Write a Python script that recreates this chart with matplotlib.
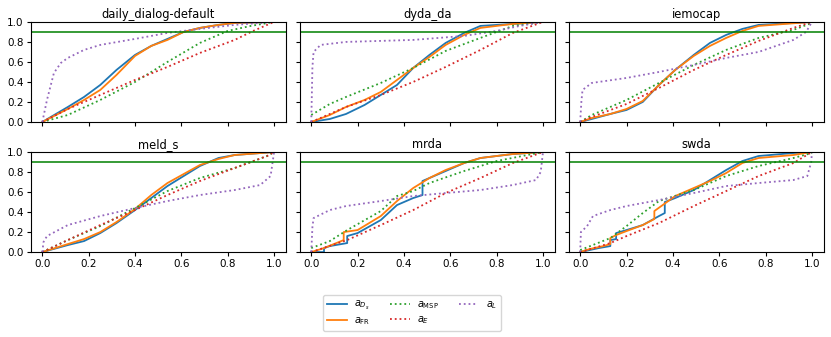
import matplotlib
matplotlib.use('Agg')
import matplotlib.pyplot as plt

# curve knots: (x, y) pairs per attribution method
titles = ['daily_dialog-default', 'dyda_da', 'iemocap', 'meld_s', 'mrda', 'swda']
labels = [r'$a_{D_s}$', r'$a_{\rm FR}$', r'$a_{\rm MSP}$', r'$a_E$', r'$a_L$']
threshold = 0.9

daily_dialog = {
    'Ds': [(0, 0), (0.11, 0.15), (0.18, 0.25), (0.25, 0.37), (0.32, 0.52), (0.40, 0.67), (0.47, 0.76),
           (0.54, 0.83), (0.61, 0.90), (0.68, 0.94), (0.76, 0.97), (0.83, 0.99), (1, 1)],
    'FR': [(0, 0), (0.11, 0.13), (0.18, 0.22), (0.25, 0.32), (0.32, 0.47), (0.40, 0.66), (0.47, 0.76),
           (0.54, 0.82), (0.61, 0.90), (0.68, 0.94), (0.76, 0.97), (0.83, 0.99), (1, 1)],
    'MSP': [(0, 0), (0.11, 0.07), (0.25, 0.22), (0.40, 0.40), (0.54, 0.60), (0.68, 0.79), (0.80, 0.91),
            (0.90, 0.96), (1, 1)],
    'E': [(0, 0), (0.11, 0.13), (0.25, 0.27), (0.40, 0.42), (0.54, 0.55), (0.68, 0.69), (0.83, 0.82),
          (0.91, 0.91), (1, 1)],
    'L': [(0, 0), (0.02, 0.22), (0.05, 0.49), (0.08, 0.59), (0.11, 0.64), (0.18, 0.72), (0.25, 0.77),
          (0.40, 0.83), (0.54, 0.89), (0.68, 0.93), (0.83, 0.97), (1, 1)],
}
dyda_da = {
    'Ds': [(0, 0), (0.08, 0.03), (0.15, 0.08), (0.23, 0.17), (0.30, 0.27), (0.37, 0.37), (0.44, 0.54),
           (0.51, 0.67), (0.58, 0.79), (0.66, 0.89), (0.73, 0.96), (0.87, 0.98), (1, 1)],
    'FR': [(0, 0), (0.08, 0.07), (0.15, 0.15), (0.23, 0.22), (0.30, 0.30), (0.37, 0.42), (0.44, 0.54),
           (0.51, 0.65), (0.58, 0.77), (0.66, 0.87), (0.73, 0.94), (0.87, 0.98), (1, 1)],
    'MSP': [(0, 0.07), (0.08, 0.18), (0.15, 0.25), (0.30, 0.39), (0.44, 0.54), (0.58, 0.71), (0.73, 0.84),
            (0.87, 0.96), (1, 1)],
    'E': [(0, 0), (0.15, 0.15), (0.30, 0.27), (0.44, 0.40), (0.58, 0.55), (0.73, 0.72), (0.87, 0.89), (1, 1)],
    'L': [(0, 0), (0.005, 0.55), (0.01, 0.70), (0.04, 0.77), (0.15, 0.80), (0.44, 0.82), (0.66, 0.86),
          (0.80, 0.91), (0.90, 0.96), (1, 1)],
}
iemocap = {
    'Ds': [(0, 0), (0.05, 0.03), (0.13, 0.08), (0.20, 0.12), (0.27, 0.20), (0.34, 0.37), (0.41, 0.52),
           (0.49, 0.67), (0.56, 0.79), (0.63, 0.87), (0.70, 0.93), (0.77, 0.97), (1, 1)],
    'FR': [(0, 0), (0.05, 0.04), (0.13, 0.08), (0.20, 0.13), (0.27, 0.21), (0.34, 0.37), (0.41, 0.52),
           (0.49, 0.66), (0.56, 0.76), (0.63, 0.84), (0.70, 0.91), (0.77, 0.96), (1, 1)],
    'MSP': [(0, 0), (0.05, 0.07), (0.20, 0.22), (0.34, 0.39), (0.49, 0.57), (0.63, 0.72), (0.77, 0.84),
            (0.92, 0.92), (1, 0.99)],
    'E': [(0, 0), (0.05, 0.05), (0.20, 0.18), (0.34, 0.34), (0.49, 0.52), (0.63, 0.67), (0.77, 0.81),
          (0.92, 0.94), (1, 1)],
    'L': [(0, 0), (0.005, 0.20), (0.01, 0.32), (0.05, 0.39), (0.20, 0.44), (0.34, 0.50), (0.49, 0.57),
          (0.63, 0.64), (0.77, 0.70), (0.92, 0.82), (0.975, 0.90), (1, 1)],
}
meld_s = {
    'Ds': [(0, 0), (0.11, 0.07), (0.18, 0.11), (0.25, 0.19), (0.32, 0.29), (0.40, 0.42), (0.47, 0.54),
           (0.54, 0.66), (0.61, 0.76), (0.68, 0.86), (0.76, 0.94), (0.83, 0.97), (1, 1)],
    'FR': [(0, 0), (0.11, 0.08), (0.18, 0.13), (0.25, 0.20), (0.32, 0.30), (0.40, 0.43), (0.47, 0.57),
           (0.54, 0.69), (0.61, 0.78), (0.68, 0.87), (0.76, 0.93), (0.83, 0.97), (1, 1)],
    'MSP': [(0, 0), (0.11, 0.12), (0.25, 0.26), (0.40, 0.44), (0.54, 0.61), (0.68, 0.74), (0.83, 0.84),
            (0.97, 0.96), (1, 1)],
    'E': [(0, 0), (0.11, 0.12), (0.25, 0.27), (0.40, 0.42), (0.54, 0.57), (0.68, 0.71), (0.83, 0.84),
          (0.97, 0.96), (1, 1)],
    'L': [(0, 0), (0.005, 0.10), (0.02, 0.16), (0.11, 0.27), (0.25, 0.36), (0.40, 0.44), (0.54, 0.51),
          (0.68, 0.57), (0.83, 0.62), (0.94, 0.67), (0.985, 0.76), (0.997, 0.95), (1, 1)],
}
mrda = {
    'Ds': [(0, 0), (0.055, 0.0), (0.055, 0.04), (0.08, 0.06), (0.155, 0.09), (0.155, 0.16), (0.20, 0.19),
           (0.30, 0.32), (0.37, 0.47), (0.44, 0.54), (0.48, 0.57), (0.48, 0.71), (0.51, 0.74), (0.58, 0.81),
           (0.66, 0.89), (0.73, 0.94), (0.87, 0.98), (1, 1)],
    'FR': [(0, 0), (0.055, 0.04), (0.14, 0.12), (0.14, 0.20), (0.20, 0.22), (0.30, 0.36), (0.37, 0.51),
           (0.44, 0.64), (0.51, 0.74), (0.58, 0.82), (0.66, 0.89), (0.73, 0.94), (0.87, 0.98), (1, 1)],
    'MSP': [(0, 0.04), (0.08, 0.11), (0.155, 0.22), (0.30, 0.41), (0.37, 0.56), (0.44, 0.61), (0.51, 0.69),
            (0.66, 0.81), (0.80, 0.91), (1, 1)],
    'E': [(0, 0), (0.155, 0.12), (0.30, 0.27), (0.44, 0.42), (0.58, 0.59), (0.73, 0.74), (0.87, 0.89), (1, 1)],
    'L': [(0, 0), (0.005, 0.25), (0.01, 0.34), (0.08, 0.42), (0.15, 0.46), (0.30, 0.51), (0.44, 0.56),
          (0.58, 0.59), (0.73, 0.62), (0.87, 0.67), (0.97, 0.72), (0.99, 0.80), (1, 1)],
}
swda = {
    'Ds': [(0, 0), (0.04, 0.02), (0.08, 0.04), (0.13, 0.06), (0.13, 0.12), (0.155, 0.13), (0.155, 0.19),
           (0.20, 0.22), (0.27, 0.27), (0.34, 0.36), (0.365, 0.39), (0.365, 0.50), (0.41, 0.54), (0.49, 0.62),
           (0.56, 0.72), (0.63, 0.82), (0.70, 0.91), (0.77, 0.96), (0.92, 0.99), (1, 1)],
    'FR': [(0, 0), (0.04, 0.03), (0.10, 0.06), (0.13, 0.08), (0.13, 0.14), (0.155, 0.17), (0.20, 0.21),
           (0.27, 0.27), (0.32, 0.33), (0.32, 0.41), (0.41, 0.56), (0.49, 0.64), (0.56, 0.71), (0.63, 0.79),
           (0.70, 0.89), (0.77, 0.94), (0.92, 0.97), (1, 1)],
    'MSP': [(0, 0.02), (0.13, 0.14), (0.20, 0.26), (0.27, 0.39), (0.34, 0.51), (0.49, 0.62), (0.63, 0.76),
            (0.77, 0.86), (0.92, 0.94), (1, 0.99)],
    'E': [(0, 0), (0.13, 0.09), (0.20, 0.16), (0.34, 0.29), (0.49, 0.46), (0.63, 0.61), (0.77, 0.76),
          (0.92, 0.89), (1, 1)],
    'L': [(0, 0), (0.003, 0.20), (0.03, 0.26), (0.055, 0.36), (0.13, 0.42), (0.20, 0.46), (0.34, 0.52),
          (0.49, 0.59), (0.63, 0.66), (0.77, 0.69), (0.92, 0.72), (0.98, 0.76), (0.997, 0.90), (1, 1)],
}
panels = [daily_dialog, dyda_da, iemocap, meld_s, mrda, swda]

styles = {'Ds': ('tab:blue', '-'), 'FR': ('tab:orange', '-'), 'MSP': ('tab:green', ':'),
          'E': ('tab:red', ':'), 'L': ('tab:purple', ':')}

fs = 7.5
plt.rcParams['font.size'] = fs
fig, axs = plt.subplots(2, 3, figsize=(8.31, 3.37), dpi=100, sharex=True, sharey=True)
plt.subplots_adjust(left=0.037, right=0.991, top=0.935, bottom=0.252, wspace=0.055, hspace=0.3)

for ax, title, curves in zip(axs.flat, titles, panels):
    for key, label in zip(['Ds', 'FR', 'MSP', 'E', 'L'], labels):
        xs = [p[0] for p in curves[key]]
        ys = [p[1] for p in curves[key]]
        color, ls = styles[key]
        ax.plot(xs, ys, color=color, linestyle=ls, linewidth=1.3, label=label)
    ax.axhline(threshold, color='green', linewidth=1.1)
    ax.set_title(title, fontsize=fs + 0.8, pad=3)
    ax.set_ylim(0, 1)
    ax.set_yticks([0, 0.2, 0.4, 0.6, 0.8, 1.0])
    ax.set_xticks([0, 0.2, 0.4, 0.6, 0.8, 1.0])
    ax.tick_params(labelsize=fs, length=3, pad=2)

handles, lbls = axs[0][0].get_legend_handles_labels()
fig.legend(handles, lbls, loc='center', bbox_to_anchor=(0.496, 0.071), ncol=3, fontsize=7,
           handlelength=2.0, columnspacing=2.0, labelspacing=0.35)
fig.savefig('out.png', dpi=100)
